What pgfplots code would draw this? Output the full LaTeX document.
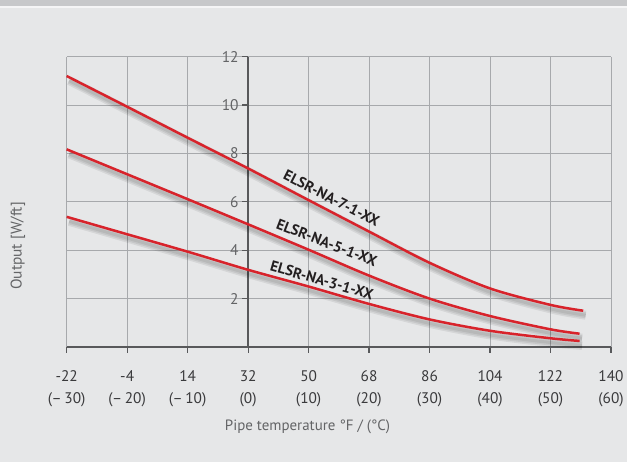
\documentclass[border=0pt]{standalone}
\usepackage{fontspec}
\setmainfont{PT Sans}
\usepackage{pgfplots}
\usepackage{pgfplotstable}
\pgfplotsset{compat=1.18}

\definecolor{bg}{HTML}{E6E7E8}
\definecolor{band}{HTML}{C7C8CA}
\definecolor{gridc}{HTML}{A7A9AC}
\definecolor{axc}{HTML}{58595B}
\definecolor{curve}{HTML}{D8232B}
\definecolor{xtc}{HTML}{3A3A3C}
\definecolor{ytc}{HTML}{636466}
\definecolor{labc}{HTML}{231F20}

% x in degrees C, y = output W/ft
\pgfplotstableread{
x y
-30 11.2
-20 9.93
-10 8.65
0 7.38
10 6.07
20 4.77
30 3.48
40 2.42
50 1.74
55.4 1.50
}\seven
\pgfplotstableread{
x y
-30 8.17
-20 7.14
-10 6.11
0 5.07
10 4.02
20 2.95
30 2.00
40 1.28
50 0.73
54.8 0.55
}\five
\pgfplotstableread{
x y
-30 5.38
-20 4.66
-10 3.94
0 3.19
10 2.50
20 1.78
30 1.14
40 0.67
50 0.36
54.8 0.25
}\three

\pgfplotsset{
  shade/.style={black, no marks, smooth, opacity=0.07, line width=#1, xshift=2.5bp, yshift=-4.5bp},
  redline/.style={curve, no marks, smooth, line width=2.5bp},
}

\begin{document}
\begin{tikzpicture}[x=1bp,y=1bp]
\useasboundingbox (0,0) rectangle (627,462);
\fill[bg] (0,0) rectangle (627,462);
\fill[band] (0,456) rectangle (627,462);
\fill[white!60!bg] (0,454) rectangle (627,456);

\begin{axis}[
    at={(66.7bp,115bp)}, anchor=south west,
    scale only axis, width=544.3bp, height=290.3bp,
    xmin=-30, xmax=60, ymin=0, ymax=12,
    axis x line=bottom, axis y line=middle,
    axis line style={-, axc},
    x axis line style={line width=2bp},
    y axis line style={line width=1.5bp},
    xtick={-30,-20,...,60},
    xticklabels={-22\\[4bp](–\,30), -4\\[4bp](–\,20), 14\\[4bp](–\,10), 32\\[4bp](0), 50\\[4bp](10), 68\\[4bp](20), 86\\[4bp](30), 104\\[4bp](40), 122\\[4bp](50), 140\\[4bp](60)},
    ytick={2,4,...,12},
    yticklabels={2,4,6,8,10,12},
    grid=major,
    grid style={gridc, line width=0.9bp},
    tick align=outside,
    major tick length=6bp,
    tick style={axc, line width=1.2bp},
    xticklabel style={align=center, font=\fontsize{15.4}{18}\selectfont, text=xtc, yshift=-14bp},
    yticklabel style={font=\fontsize{15.5}{18}\selectfont, text=ytc},
    clip=false,
  ]
  \addplot[shade=9bp] table {\seven};
  \addplot[shade=6bp] table {\seven};
  \addplot[shade=3bp] table {\seven};
  \addplot[shade=9bp] table {\five};
  \addplot[shade=6bp] table {\five};
  \addplot[shade=3bp] table {\five};
  \addplot[shade=9bp] table {\three};
  \addplot[shade=6bp] table {\three};
  \addplot[shade=3bp] table {\three};
  \addplot[redline] table {\seven};
  \addplot[redline] table {\five};
  \addplot[redline] table {\three};

  \node[rotate=-27, text=labc, font=\fontsize{15}{17}\selectfont\bfseries] at (axis cs:13.8,6.15) {ELSR-NA-7-1-XX};
  \node[rotate=-21, text=labc, font=\fontsize{15}{17}\selectfont\bfseries] at (axis cs:13.0,4.32) {ELSR-NA-5-1-XX};
  \node[rotate=-16, text=labc, font=\fontsize{15}{17}\selectfont\bfseries] at (axis cs:12.2,2.76) {ELSR-NA-3-1-XX};
\end{axis}

\node[rotate=90, text=ytc, font=\fontsize{15.5}{17}\selectfont] at (18,216) {Output [W/ft]};
\node[text=ytc, font=\fontsize{15}{17}\selectfont] at (307.5,35) {Pipe temperature °F / (°C)};
\end{tikzpicture}
\end{document}
